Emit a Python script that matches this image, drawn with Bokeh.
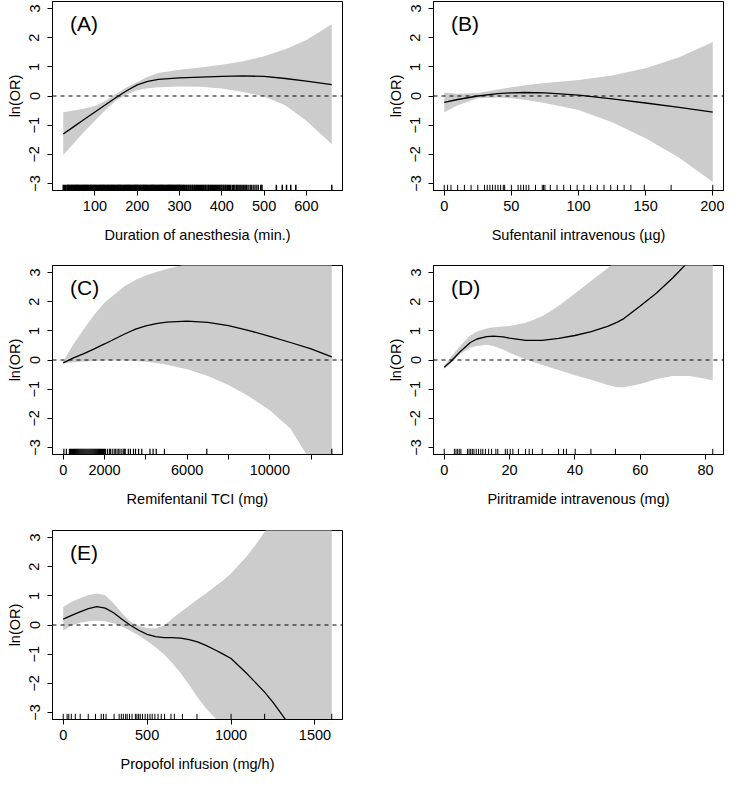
from bokeh.plotting import figure
from bokeh.layouts import column, row
from bokeh.models import Range1d, FixedTicker, Span, Label
from bokeh.embed import file_html
from bokeh.resources import INLINE

FONT = "Liberation Sans"

# ---------------- data ----------------
Y_LIM = [-3, 3]
Y_TICKS = [-3, -2, -1, 0, 1, 2, 3]

# (A) Duration of anesthesia
A_x   = [25, 50, 75, 100, 125, 150, 175, 200, 225, 250, 300, 350, 400, 450, 500, 550, 600, 660]
A_fit = [-1.30, -1.05, -0.80, -0.55, -0.30, -0.05, 0.18, 0.38, 0.50, 0.57, 0.62, 0.65, 0.67, 0.69, 0.67, 0.60, 0.51, 0.39]
A_hi  = [-0.56, -0.50, -0.43, -0.34, -0.16, 0.07, 0.30, 0.48, 0.66, 0.79, 0.90, 0.98, 1.07, 1.19, 1.36, 1.60, 1.92, 2.46]
A_lo  = [-2.02, -1.62, -1.22, -0.85, -0.48, -0.15, 0.05, 0.20, 0.27, 0.30, 0.33, 0.32, 0.26, 0.14, -0.02, -0.32, -0.85, -1.65]
A_rug = [25, 28, 31, 34, 36, 37, 39, 41, 43, 45, 46, 48, 50, 52, 54, 55, 57, 59, 60, 62, 64, 66, 68, 70,
         72, 73, 75, 77, 79, 80, 82, 84, 86, 88, 90, 91, 93, 95, 97, 99, 100, 102, 104, 106, 108, 110,
         112, 113, 115, 117, 119, 120, 122, 124, 126, 128, 130, 131, 133, 135, 137, 139, 140, 142, 144,
         146, 148, 150, 152, 154, 155, 157, 159, 160, 162, 164, 166, 168, 170, 172, 174, 175, 177, 179,
         180, 182, 184, 186, 188, 190, 192, 194, 195, 197, 199, 200, 202, 204, 206, 208, 210, 212, 214,
         215, 217, 219, 220, 222, 224, 226, 228, 230, 232, 234, 235, 237, 239, 240, 242, 244, 246, 248,
         250, 252, 254, 255, 257, 259, 260, 262, 264, 266, 268, 270, 272, 274, 275, 277, 279, 280, 282,
         284, 286, 288, 290, 292, 294, 295, 297, 299, 300, 302, 304, 306, 308, 310, 312, 315, 317, 320,
         322, 325, 327, 330, 332, 335, 337, 340, 342, 345, 347, 350, 352, 355, 357, 360, 362, 365, 368,
         370, 373, 375, 378, 380, 383, 385, 388, 390, 393, 395, 398, 400, 403, 405, 408, 410, 413, 416,
         418, 421, 425, 428, 431, 435, 438, 441, 445, 448, 452, 455, 458, 462, 467, 471, 476, 481, 486,
         492, 495, 529, 543, 553, 563, 575, 660]
A_ticks = [100, 200, 300, 400, 500, 600]

# (B) Sufentanil intravenous
B_x   = [0, 10, 25, 40, 50, 60, 75, 100, 125, 150, 175, 200]
B_fit = [-0.22, -0.12, 0.00, 0.08, 0.11, 0.12, 0.11, 0.03, -0.10, -0.24, -0.39, -0.55]
B_hi  = [0.12, 0.08, 0.10, 0.22, 0.30, 0.37, 0.45, 0.55, 0.70, 0.95, 1.33, 1.85]
B_lo  = [-0.56, -0.32, -0.08, -0.05, -0.08, -0.13, -0.24, -0.48, -0.90, -1.45, -2.12, -2.95]
B_rug = [0, 2.5, 5, 10, 15, 20, 25, 30, 32, 34, 36, 38, 40, 42, 44, 45, 50, 55, 57, 59, 61, 63, 68,
         73, 74, 75, 79, 84, 89, 94, 99, 104, 109, 114, 119, 124, 129, 134, 139, 149, 169, 200]
B_ticks = [0, 50, 100, 150, 200]

# (C) Remifentanil TCI
C_x   = [0, 500, 1000, 1500, 2000, 3000, 3500, 4000, 4500, 5000, 6000, 7000, 8000, 9000, 10000, 11000, 12000, 13000]
C_fit = [-0.10, 0.07, 0.22, 0.38, 0.55, 0.90, 1.06, 1.17, 1.25, 1.30, 1.33, 1.29, 1.18, 1.01, 0.81, 0.60, 0.38, 0.11]
C_hi  = [-0.05, 0.55, 1.06, 1.55, 1.97, 2.55, 2.74, 2.90, 3.02, 3.12, 3.30, 3.50, 3.75, 4.00, 4.30, 4.60, 4.90, 5.20]
C_lo  = [-0.12, -0.08, -0.05, -0.03, -0.02, -0.02, -0.03, -0.06, -0.10, -0.16, -0.32, -0.55, -0.86, -1.25, -1.72, -2.35, -3.50, -4.70]
C_rug = [30, 150, 300, 350, 400, 450, 500, 550, 600, 650, 700, 750, 800, 850, 900, 950, 1000, 1050,
         1100, 1150, 1200, 1250, 1300, 1350, 1400, 1450, 1500, 1550, 1600, 1650, 1700, 1750, 1800,
         1850, 1900, 1950, 2000, 2050, 2150, 2250, 2300, 2400, 2500, 2550, 2650, 2700, 2800, 2900,
         2950, 3000, 3150, 3250, 3400, 3500, 3650, 3800, 4200, 4350, 4500, 4900, 6950, 13000]
C_ticks = [0, 2000, 4000, 6000, 8000, 10000, 12000]
C_hidden = [4000, 8000, 12000]

# (D) Piritramide intravenous
D_x   = [0, 2, 5, 8, 10, 13, 15, 18, 20, 25, 30, 35, 40, 45, 50, 53, 55, 60, 65, 70, 75, 80, 82.2]
D_fit = [-0.25, -0.05, 0.30, 0.60, 0.72, 0.80, 0.82, 0.79, 0.75, 0.67, 0.67, 0.74, 0.84, 0.97, 1.15,
         1.30, 1.42, 1.85, 2.30, 2.82, 3.40, 4.00, 4.30]
D_hi  = [-0.20, 0.10, 0.50, 0.85, 0.98, 1.08, 1.12, 1.15, 1.17, 1.28, 1.50, 1.85, 2.28, 2.72, 3.15,
         3.45, 3.65, 4.30, 4.90, 5.50, 6.10, 6.70, 7.00]
D_lo  = [-0.30, -0.12, 0.22, 0.42, 0.48, 0.52, 0.48, 0.36, 0.25, 0.02, -0.17, -0.34, -0.52, -0.68,
         -0.86, -0.93, -0.93, -0.82, -0.65, -0.55, -0.55, -0.64, -0.70]
D_rug = [0, 3.1, 3.6, 4.1, 4.6, 5.1, 7.1, 7.6, 8.1, 8.6, 9.1, 9.8, 10.5, 11.2, 11.8, 12.6, 13.6, 14.5,
         15.8, 16.4, 18.7, 19.3, 20.2, 21, 22.7, 24.9, 26, 27, 30, 35, 36.5, 37.4, 40.1, 44.9, 52.4, 82.2]
D_ticks = [0, 20, 40, 60, 80]

# (E) Propofol infusion
E_x   = [0, 50, 100, 150, 200, 250, 300, 350, 400, 450, 500, 550, 600, 650, 700, 750, 800, 850, 900,
         950, 1000, 1050, 1100, 1150, 1200, 1250, 1300, 1350, 1400, 1500, 1600]
E_fit = [0.20, 0.33, 0.45, 0.56, 0.63, 0.58, 0.42, 0.20, -0.01, -0.18, -0.32, -0.40, -0.43, -0.43,
         -0.45, -0.50, -0.58, -0.70, -0.84, -0.99, -1.15, -1.42, -1.70, -2.00, -2.30, -2.65, -3.05,
         -3.45, -3.85, -4.60, -5.30]
E_hi  = [0.62, 0.80, 0.92, 1.03, 1.08, 1.02, 0.75, 0.40, 0.12, -0.03, -0.10, -0.12, -0.02, 0.22,
         0.45, 0.66, 0.88, 1.08, 1.30, 1.52, 1.77, 2.08, 2.40, 2.78, 3.20, 3.60, 4.00, 4.45, 4.90,
         5.80, 6.70]
E_lo  = [-0.20, -0.02, 0.08, 0.13, 0.15, 0.13, 0.06, -0.05, -0.20, -0.36, -0.55, -0.76, -1.00, -1.30,
         -1.65, -2.05, -2.48, -2.85, -3.15, -3.50, -3.90, -4.30, -4.70, -5.10, -5.50, -5.90, -6.30,
         -6.70, -7.10, -7.90, -8.70]
E_rug = [0, 23, 33, 48, 72, 101, 149, 192, 226, 240, 255, 303, 333, 346, 358, 372, 381, 395, 410, 430,
         439, 449, 459, 472, 488, 503, 517, 530, 546, 565, 584, 604, 642, 662, 710, 797, 1000, 1200, 1600]
E_ticks = [0, 500, 1000, 1500]

# ---------------- layout constants ----------------
FRAME_W = 290
FRAME_H = 189
TICK_FS = "14.5px"
LABEL_FS = "14.5px"
B_LEFT = 52


def make_panel(letter, x, fit, lo, hi, rug, xlabel, xticks, width, height, b_top,
               hidden=(), rug_width=1.0):
    xmin, xmax = min(x), max(x)
    xpad = 0.04 * (xmax - xmin)
    xr = Range1d(xmin - xpad, xmax + xpad)
    ypad = 0.04 * (Y_LIM[1] - Y_LIM[0])
    yr = Range1d(Y_LIM[0] - ypad, Y_LIM[1] + ypad)

    p = figure(width=width, height=height, x_range=xr, y_range=yr,
               output_backend="svg", toolbar_location=None,
               min_border_left=B_LEFT, min_border_right=width - B_LEFT - FRAME_W,
               min_border_top=b_top, min_border_bottom=height - b_top - FRAME_H)
    p.grid.visible = False
    p.background_fill_color = "white"
    p.border_fill_color = "white"
    p.outline_line_color = "black"
    p.outline_line_width = 1
    p.outline_line_alpha = 1

    p.varea(x=x, y1=lo, y2=hi, fill_color="#CCCCCC", fill_alpha=1)
    p.line(x, fit, line_color="black", line_width=1.3)
    p.add_layout(Span(location=0, dimension="width", line_color="black",
                      line_dash="4 4", line_width=1))

    y0 = yr.start
    y1 = yr.start + 0.03 * (yr.end - yr.start)
    p.segment(x0=rug, x1=rug, y0=[y0] * len(rug), y1=[y1] * len(rug),
              line_color="black", line_width=rug_width)

    # panel letter (legend at top left in the original)
    lx = xr.start + 17.6 / FRAME_W * (xr.end - xr.start)
    ly = yr.end - 21.5 / FRAME_H * (yr.end - yr.start)
    p.add_layout(Label(x=lx, y=ly, text="(" + letter + ")", text_font=FONT,
                       text_font_size="21px", text_baseline="middle",
                       text_align="left", text_color="black"))

    for ax in (p.xaxis[0], p.yaxis[0]):
        ax.axis_line_color = "black"
        ax.major_tick_line_color = "black"
        ax.minor_tick_line_color = None
        ax.major_tick_out = 5
        ax.major_tick_in = 0
        ax.major_label_text_font = FONT
        ax.major_label_text_font_size = TICK_FS
        ax.major_label_text_color = "black"
        ax.axis_label_text_font = FONT
        ax.axis_label_text_font_size = LABEL_FS
        ax.axis_label_text_font_style = "normal"
        ax.axis_label_text_color = "black"

    p.xaxis.ticker = FixedTicker(ticks=xticks)
    if hidden:
        p.xaxis.major_label_overrides = {float(t): "" for t in hidden}
    p.xaxis.axis_label = xlabel
    p.xaxis.major_label_standoff = 5
    p.xaxis.axis_label_standoff = 13

    p.yaxis.ticker = FixedTicker(ticks=Y_TICKS)
    p.yaxis.axis_label = "ln(OR)"
    p.yaxis.major_label_orientation = "vertical"
    p.yaxis.major_label_standoff = 8
    p.yaxis.axis_label_standoff = 4
    return p


LEFT_W, RIGHT_W = 381, 343
ROW_H, LAST_H = 264, 247

pA = make_panel("A", A_x, A_fit, A_lo, A_hi, A_rug, "Duration of anesthesia (min.)", A_ticks,
                LEFT_W, ROW_H, 1, rug_width=1.5)
pB = make_panel("B", B_x, B_fit, B_lo, B_hi, B_rug, "Sufentanil intravenous (\u00b5g)", B_ticks,
                RIGHT_W, ROW_H, 1)
pC = make_panel("C", C_x, C_fit, C_lo, C_hi, C_rug, "Remifentanil TCI (mg)", C_ticks,
                LEFT_W, ROW_H, 1, hidden=C_hidden, rug_width=1.2)
pD = make_panel("D", D_x, D_fit, D_lo, D_hi, D_rug, "Piritramide intravenous (mg)", D_ticks,
                RIGHT_W, ROW_H, 1)
pE = make_panel("E", E_x, E_fit, E_lo, E_hi, E_rug, "Propofol infusion (mg/h)", E_ticks,
                LEFT_W, LAST_H, 2)

layout = column(row(pA, pB), row(pC, pD), row(pE))

open("out.html", "w").write(file_html(layout, INLINE))
